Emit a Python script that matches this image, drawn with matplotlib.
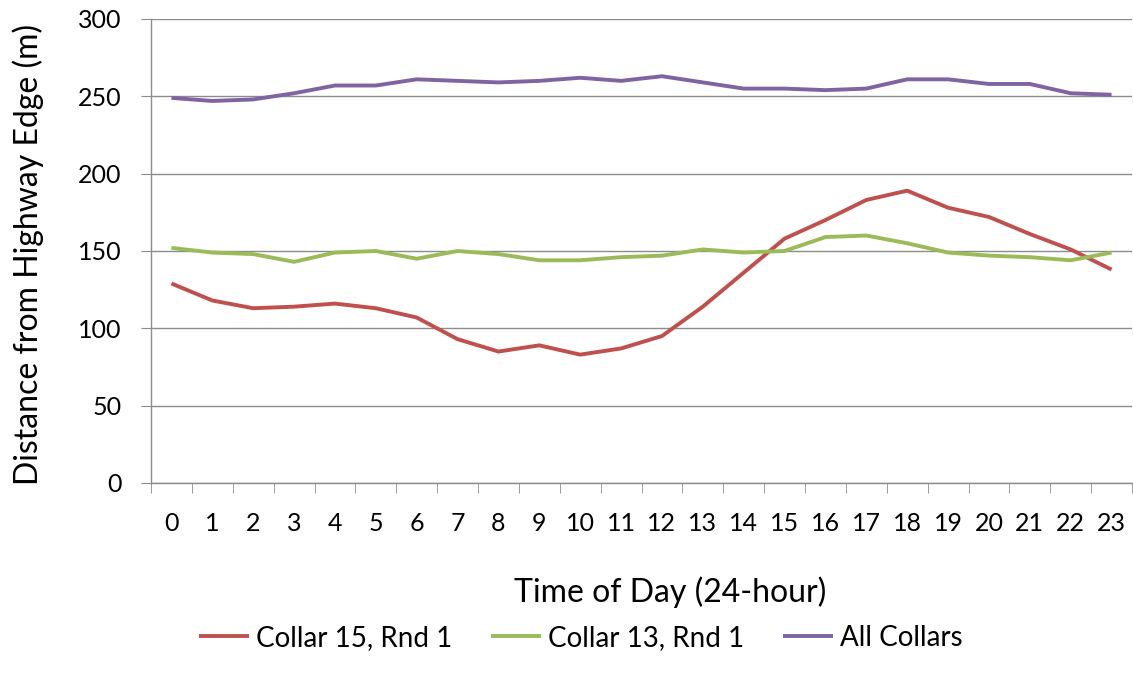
import matplotlib
matplotlib.use("Agg")
import matplotlib.pyplot as plt

# ── Data ─────────────────────────────────────────
hours = list(range(24))
hour_labels = [str(h) for h in hours]

collar15 = [129, 118, 113, 114, 116, 113, 107, 93, 85, 89, 83, 87,
            95, 114, 136, 158, 170, 183, 189, 178, 172, 161, 151, 138]
collar13 = [152, 149, 148, 143, 149, 150, 145, 150, 148, 144, 144, 146,
            147, 151, 149, 150, 159, 160, 155, 149, 147, 146, 144, 149]
all_collars = [249, 247, 248, 252, 257, 257, 261, 260, 259, 260, 262, 260,
               263, 259, 255, 255, 254, 255, 261, 261, 258, 258, 252, 251]

series_names = ["Collar 15, Rnd 1", "Collar 13, Rnd 1", "All Collars"]
series_colors = ["#C0504D", "#9BBB59", "#8064A2"]

plt.rcParams["font.family"] = ["Lato", "DejaVu Sans"]

fig = plt.figure(figsize=(11.33, 6.81), dpi=100)
ax = fig.add_axes([151 / 1133, 1 - 483 / 681, 981 / 1133, (483 - 19) / 681])

for vals, name, col in zip([collar15, collar13, all_collars], series_names, series_colors):
    ax.plot(hours, vals, color=col, linewidth=2.8, label=name,
            solid_joinstyle="round", solid_capstyle="butt")

# ── Axes styling ─────────────────────────────────
ax.set_ylim(0, 300)
ax.set_yticks(range(0, 301, 50))
ax.set_xlim(-0.5, 23.5)
ax.set_xticks(hours)
ax.set_xticklabels(hour_labels)
ax.set_xticks([h - 0.5 for h in range(25)], minor=True)

ax.grid(axis="y", color="#8C8C8C", linewidth=1.0)
ax.set_axisbelow(True)
for side in ["top", "right"]:
    ax.spines[side].set_visible(False)
for side in ["left", "bottom"]:
    ax.spines[side].set_color("#8C8C8C")
    ax.spines[side].set_linewidth(1.0)

ax.tick_params(axis="x", which="major", length=0, pad=21, labelsize=18)
ax.tick_params(axis="x", which="minor", length=7, color="#8C8C8C", direction="out")
ax.tick_params(axis="y", length=7.5, color="#8C8C8C", pad=13.5, labelsize=18)

fig.text(670 / 1133, 1 - 592 / 681, "Time of Day (24-hour)",
         ha="center", va="center", fontsize=23)
fig.text(28 / 1133, 1 - 254 / 681, "Distance from Highway Edge (m)",
         ha="center", va="center", rotation=90, fontsize=23)

fig.legend(loc="center", bbox_to_anchor=(581 / 1133, 1 - 638 / 681), ncol=3,
           frameon=False, fontsize=20, handlelength=1.8, handletextpad=0.25,
           columnspacing=1.4)

plt.savefig("out.png", dpi=100)
plt.close()
